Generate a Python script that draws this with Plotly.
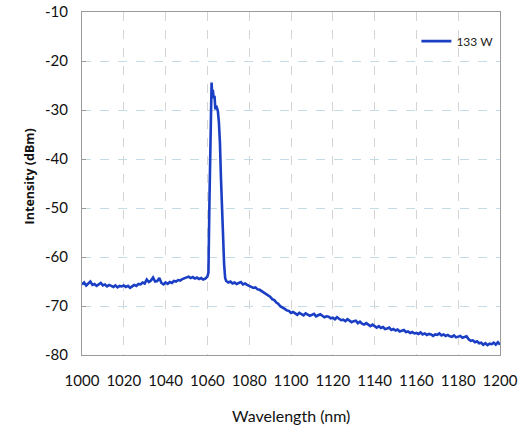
import plotly.graph_objects as go

# Output spectrum at 133 W: wavelength (nm) and intensity (dBm)
wavelength = [
    1000, 1001, 1002, 1003, 1004, 1005, 1006, 1007, 1008, 1009,
    1010, 1011, 1012, 1013, 1014, 1015, 1016, 1017, 1018, 1019,
    1020, 1021, 1022, 1023, 1024, 1025, 1026, 1027, 1028, 1029,
    1030, 1031, 1032, 1033, 1034, 1035, 1036, 1037, 1038, 1039,
    1040, 1041, 1042, 1043, 1044, 1045, 1046, 1047, 1048, 1049,
    1050, 1051, 1052, 1053, 1054, 1055, 1056, 1057, 1058, 1059,
    1060, 1060.5, 1061, 1061.5, 1062, 1062.3, 1062.6, 1063, 1063.4, 1063.8,
    1064.2, 1064.6, 1065, 1065.5, 1066, 1066.5, 1067, 1067.5, 1068, 1068.5,
    1069, 1070, 1071, 1072, 1073, 1074, 1075, 1076, 1077, 1078,
    1079, 1080, 1081, 1082, 1083, 1084, 1085, 1086, 1087, 1088,
    1089, 1090, 1091, 1092, 1093, 1094, 1095, 1096, 1097, 1098,
    1099, 1100, 1101, 1102, 1103, 1104, 1105, 1106, 1107, 1108,
    1109, 1110, 1111, 1112, 1113, 1114, 1115, 1116, 1117, 1118,
    1119, 1120, 1121, 1122, 1123, 1124, 1125, 1126, 1127, 1128,
    1129, 1130, 1131, 1132, 1133, 1134, 1135, 1136, 1137, 1138,
    1139, 1140, 1141, 1142, 1143, 1144, 1145, 1146, 1147, 1148,
    1149, 1150, 1151, 1152, 1153, 1154, 1155, 1156, 1157, 1158,
    1159, 1160, 1161, 1162, 1163, 1164, 1165, 1166, 1167, 1168,
    1169, 1170, 1171, 1172, 1173, 1174, 1175, 1176, 1177, 1178,
    1179, 1180, 1181, 1182, 1183, 1184, 1185, 1186, 1187, 1188,
    1189, 1190, 1191, 1192, 1193, 1194, 1195, 1196, 1197, 1198,
    1199, 1200,
]
intensity = [
    -65.6, -65.2, -65.8, -65.4, -65.0, -65.7, -65.5, -65.9, -65.6, -65.3,
    -65.8, -65.6, -66.0, -65.7, -65.9, -66.1, -65.8, -66.2, -65.9, -66.0,
    -65.8, -66.1, -65.9, -66.3, -66.0, -65.7, -65.9, -65.5, -65.6, -65.2,
    -65.4, -64.6, -65.1, -64.8, -64.2, -65.0, -64.9, -64.3, -65.3, -65.6,
    -65.2, -65.5, -65.1, -65.3, -64.9, -65.0, -64.7, -64.8, -64.5, -64.3,
    -64.2, -64.0, -64.3, -64.1, -64.4, -64.2, -64.5, -64.3, -64.6, -64.4,
    -64.0, -63.2, -48.0, -38.0, -24.4, -26.8, -25.9, -27.6, -27.1, -29.9,
    -29.1, -29.6, -30.2, -32.5, -36.7, -44.0, -51.0, -56.5, -61.5, -64.3,
    -64.9, -65.2, -65.0, -65.4, -65.2, -65.5, -65.3, -65.1, -65.6, -65.4,
    -65.7, -65.9, -66.0, -66.3, -66.2, -66.6, -66.7, -67.0, -67.3, -67.5,
    -67.9, -68.1, -68.6, -68.8, -69.3, -69.6, -70.1, -70.3, -70.6, -70.9,
    -71.0,
    -71.4, -71.2, -71.5, -71.8, -71.4, -71.6, -71.9, -71.5, -71.7, -72.0,
    -71.8, -71.6, -72.1, -71.9, -71.7, -72.0, -72.3, -72.1, -72.2, -72.5,
    -72.4, -72.7, -72.3, -72.6, -72.9, -72.8, -73.1, -72.7, -73.0, -73.3,
    -73.1, -73.0, -73.5, -73.2, -73.6, -73.8, -73.5, -73.9, -74.1, -73.8,
    -74.2, -74.4, -74.1, -74.5, -74.3, -74.7, -74.6, -74.4, -74.9, -74.7,
    -75.0, -74.8, -75.2, -75.1, -74.9, -75.3, -75.2, -75.5, -75.3, -75.6,
    -75.5, -75.7, -75.4, -75.8, -75.6, -75.9, -75.7, -75.8, -76.1, -75.8,
    -75.9, -75.6, -76.0, -75.8, -76.1, -75.9, -76.2, -76.3, -76.0, -76.4,
    -76.3, -76.1, -76.5, -76.3, -76.2, -76.8, -77.1, -77.0, -77.4, -77.2,
    -77.6, -77.5, -77.9, -77.6, -78.0, -77.7, -77.8, -77.5, -77.9, -77.4,
    -77.9,
]
series_name = "133 W"

x_ticks = [1000, 1020, 1040, 1060, 1080, 1100, 1120, 1140, 1160, 1180, 1200]
y_ticks = [-80, -70, -60, -50, -40, -30, -20, -10]
y_tick_text = [f"-{abs(v)}" for v in y_ticks]

label_family = "Lato, Open Sans, sans-serif"
tick_font = dict(family=label_family, size=15, color="#111")

fig = go.Figure()
fig.add_trace(go.Scatter(
    x=wavelength, y=intensity, mode="lines", name=series_name,
    line=dict(color="#1a3ec4", width=2.6),
))

fig.update_layout(
    width=523, height=429,
    margin=dict(l=82, r=23, t=12, b=74),
    paper_bgcolor="white", plot_bgcolor="white",
    showlegend=True,
    legend=dict(
        x=0.80, y=0.915, xanchor="left", yanchor="middle",
        bgcolor="rgba(0,0,0,0)",
        font=dict(family=label_family, size=12, color="#222"),
        itemwidth=30,
    ),
    annotations=[
        dict(text="Wavelength (nm)", xref="paper", yref="paper", x=0.5, y=-0.175,
             xanchor="center", yanchor="middle", showarrow=False,
             font=dict(family=label_family, size=16, color="#111")),
        dict(text="<b>Intensity (dBm)</b>", xref="paper", yref="paper", x=-0.125, y=0.52,
             xanchor="center", yanchor="middle", showarrow=False, textangle=-90,
             font=dict(family="Open Sans, sans-serif", size=12.5, color="#111")),
    ],
)
fig.update_xaxes(
    range=[1000, 1200], tickvals=x_ticks,
    showgrid=True, gridcolor="#d4d4d4", griddash="dash", gridwidth=1,
    showline=True, linecolor="#9a9a9a", linewidth=1, mirror=True,
    ticks="", tickfont=tick_font, ticklabelstandoff=12,
    zeroline=False, automargin=False,
)
fig.update_yaxes(
    range=[-80, -10], tickvals=y_ticks, ticktext=y_tick_text,
    showgrid=True, gridcolor="#c5dbe6", griddash="dash", gridwidth=1,
    showline=True, linecolor="#9a9a9a", linewidth=1, mirror=True,
    ticks="inside", ticklen=4, tickcolor="#9a9a9a", tickfont=tick_font, ticklabelstandoff=10,
    zeroline=False, automargin=False,
)

fig.write_html("out.html")
